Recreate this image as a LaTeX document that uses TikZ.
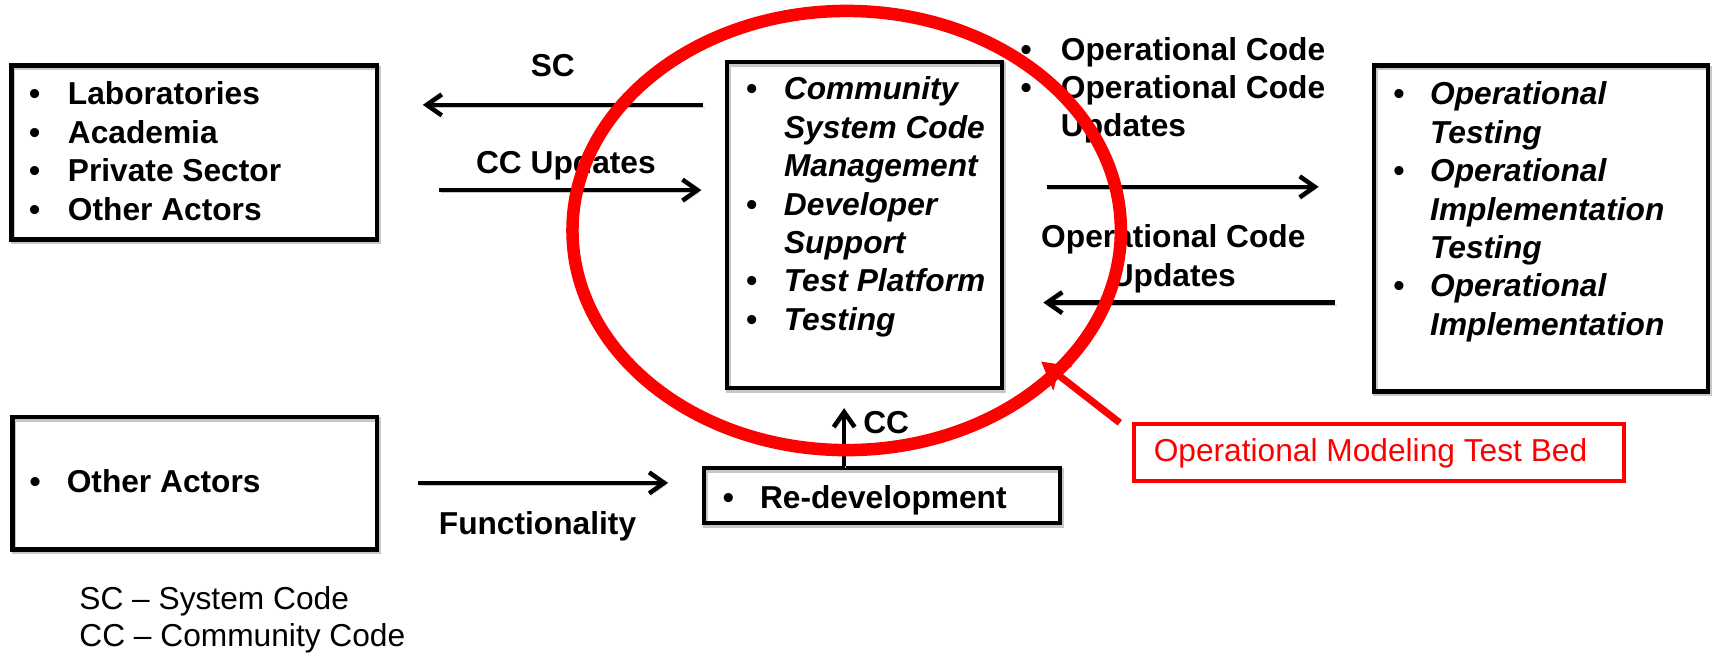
\documentclass[tikz,border=0pt]{standalone}
\usepackage{fontspec}
\setmainfont{Liberation Sans}
\usetikzlibrary{arrows.meta,fit}
\definecolor{pptred}{RGB}{255,0,0}
\newcommand{\fs}{\fontsize{31.7}{38.4}\selectfont}
\newcommand{\bl}[1]{\makebox[#1][l]{\textbullet}}
\begin{document}
\begin{tikzpicture}[x=1.0925pt,y=-1.0925pt,
  shadowed/.style={preaction={draw=black!22,transform canvas={shift={(1.5pt,-2.5pt)}}}},
  box/.style={draw=black,line width=4.5pt,inner sep=0pt,shadowed},
  redbox/.style={draw=pptred,line width=4pt,inner sep=0pt},
  txt/.style={inner sep=0pt,anchor=base west,font=\fs\bfseries},
  itx/.style={inner sep=0pt,anchor=base west,font=\fs\bfseries\itshape},
  lbl/.style={inner sep=0pt,anchor=base,font=\fs\bfseries},
  plain/.style={inner sep=0pt,anchor=base west,font=\fs},
  conn/.style={line width=4.5pt,-{Straight Barb[length=15pt,width=21pt]},shadowed},
  ring/.style={draw=pptred,line width=12.5pt},
  redarrow/.style={draw=pptred,line width=7pt,-{Stealth[length=27pt,width=30pt,inset=6pt]}},
]
\useasboundingbox (0,0) rectangle (1568,600);

% boxes
\node[box,fit={(10.3,59.8) (345.2,219.2)}] (labs) {};
\node[box,fit={(665.5,56.8) (917.2,355.2)}] (cscm) {};
\node[box,fit={(1257.8,59.8) (1563.2,358.2)}] (oper) {};
\node[box,fit={(11.4,381.8) (345.2,503.2)}] (other) {};
\node[box,fit={(644.2,428.3) (970.2,478.7)}] (redev) {};
\node[redbox,fit={(1037.8,387.8) (1486.2,440.2)}] (omtb) {};

% box texts
\node[txt] (labsT) at (26.5,96) {\begin{tabular}[t]{@{}l@{}l@{}}
\bl{38.8pt}&Laboratories\\ \bl{38.8pt}&Academia\\ \bl{38.8pt}&Private Sector\\ \bl{38.8pt}&Other Actors\end{tabular}};
\node[itx] (cscmT) at (682.5,91.5) {\begin{tabular}[t]{@{}l@{}l@{}}
\bl{38.2pt}&Community\\ &System Code\\ &Management\\ \bl{38.2pt}&Developer\\ &Support\\ \bl{38.2pt}&Test Platform\\ \bl{38.2pt}&Testing\end{tabular}};
\node[itx] (operT) at (1275,96) {\begin{tabular}[t]{@{}l@{}l@{}}
\bl{37.1pt}&Operational\\ &Testing\\ \bl{37.1pt}&Operational\\ &Implementation\\ &Testing\\ \bl{37.1pt}&Operational\\ &Implementation\end{tabular}};
\node[txt] (otherT) at (27,451) {\begin{tabular}[t]{@{}l@{}l@{}}\bl{37.1pt}&Other Actors\end{tabular}};
\node[txt] (redevT) at (661.5,465) {\begin{tabular}[t]{@{}l@{}l@{}}\bl{37.2pt}&Re-development\end{tabular}};
\node[txt] (ocT) at (934,55) {\begin{tabular}[t]{@{}l@{}l@{}}
\bl{40.4pt}&Operational Code\\ \bl{40.4pt}&Operational Code\\ &Updates\end{tabular}};

% labels
\node[lbl] (scL) at (506,70) {SC};
\node[lbl] (ccuL) at (518,158.5) {CC Updates};
\node[lbl] (ocuL1) at (1074,227) {Operational Code};
\node[lbl] (ocuL2) at (1074,262.5) {Updates};
\node[lbl] (funcL) at (492,489) {Functionality};
\node[txt] (ccL) at (790,396.5) {CC};
\node[inner sep=0pt,anchor=base,font=\fs,text=pptred] (omtbT) at (1254.5,422.6) {Operational Modeling Test Bed};

% legend
\node[plain] (leg1) at (72.5,558) {SC \textendash{} System Code};
\node[plain] (leg2) at (72.5,592) {CC \textendash{} Community Code};

% connector end points
\coordinate (scS) at (643.5,96);
\coordinate (scE) at (387,96);
\coordinate (ccuS) at (402,174);
\coordinate (ccuE) at (642,174);
\coordinate (ocR1) at (958,171);
\coordinate (ocR2) at (1207,171);
\coordinate (ocL1) at (1222,277);
\coordinate (ocL2) at (955,277);
\coordinate (fnS) at (383,442);
\coordinate (fnE) at (611.5,442);
\coordinate (ccTip) at (772.7,373.6);

\draw[conn] (scS) -- (scE);
\draw[conn] (ccuS) -- (ccuE);
\draw[conn] (ocR1) -- (ocR2);
\draw[conn] (ocL1) -- (ocL2);
\draw[conn] (fnS) -- (fnE);
\draw[conn] (redev.north -| ccTip) -- (ccTip);

% red ring and pointer
\coordinate (ringC) at (775,211);
\draw[ring] (ringC) ellipse [x radius=251, y radius=201];
\coordinate (rtail) at (1025,387);
\coordinate (rtip) at (953,331);
\draw[redarrow] (rtail) -- (rtip);
\end{tikzpicture}
\end{document}
